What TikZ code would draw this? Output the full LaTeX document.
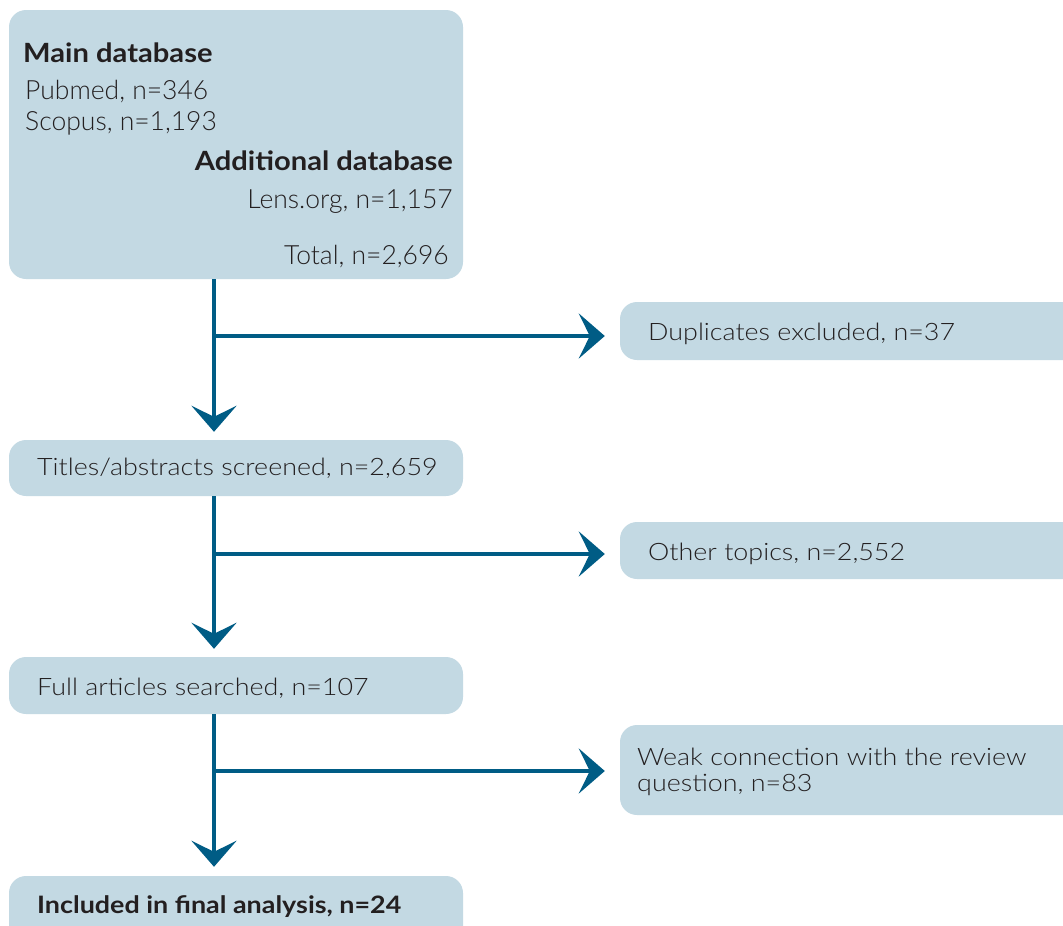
\documentclass[tikz,border=0pt]{standalone}
\usepackage{fontspec}
\setmainfont{Lato}[UprightFont={* Light},BoldFont={* Bold}]
\newfontfamily\widefont{Lato}[UprightFont={* Light},BoldFont={* Bold},FakeStretch=1.12]
\newfontfamily\headfont{Lato}[UprightFont={* Bold},FakeStretch=1.1]
\usetikzlibrary{arrows.meta,calc}
\definecolor{boxfill}{HTML}{C3D9E3}
\definecolor{arrowc}{HTML}{005C85}
\definecolor{txt}{HTML}{231F20}
\tikzset{
  box/.style={fill=boxfill,rounded corners=17pt,draw=none},
  anchorbox/.style={inner sep=0pt},
  lbl/.style={anchor=base west,inner sep=0pt,text=txt,font=\widefont\fontsize{24}{26}\selectfont},
  dbl/.style={anchor=base west,inner sep=0pt,text=txt,font=\fontsize{26.5}{31}\selectfont},
  dbr/.style={dbl,anchor=base east},
  hd/.style={anchor=base west,inner sep=0pt,text=txt,font=\headfont\fontsize{26.5}{31}\selectfont},
  fin/.style={anchor=base west,inner sep=0pt,text=txt,font=\widefont\bfseries\fontsize{24}{26}\selectfont},
  arr/.style={draw=arrowc,line width=4pt,-{Stealth[length=26pt,width=45pt,inset=11pt]}},
}
\begin{document}
\begin{tikzpicture}[x=1pt,y=-1pt]
\useasboundingbox (0,0) rectangle (1063,926);
\clip (0,0) rectangle (1063,926);
% boxes
\path[box] (9,10) rectangle (463,279);
\node[anchorbox,minimum width=454pt,minimum height=269pt] (b1) at (236,144.5) {};
\path[box] (9,440) rectangle (463,496);
\node[anchorbox,minimum width=454pt,minimum height=56pt] (b2) at (236,468) {};
\path[box] (9,657) rectangle (463,714);
\node[anchorbox,minimum width=454pt,minimum height=57pt] (b3) at (236,685.5) {};
\path[box] (9,876) rectangle (463,950);
\node[anchorbox,minimum width=454pt,minimum height=74pt] (b4) at (236,913) {};
\path[box] (620,302) rectangle (1080,360);
\node[anchorbox,minimum width=460pt,minimum height=58pt] (dup) at (850,331) {};
\path[box] (620,522) rectangle (1080,579);
\node[anchorbox,minimum width=460pt,minimum height=57pt] (oth) at (850,550.5) {};
\path[box] (620,725) rectangle (1080,815);
\node[anchorbox,minimum width=460pt,minimum height=90pt] (weak) at (850,770) {};
% texts
\node[hd] (t1) at (23,62) {Main database};
\node[dbl] (t2) at (25,99) {Pubmed, n=346};
\node[dbl] (t3) at (25,130) {Scopus, n=1,193};
\node[hd,anchor=base east] (t4) at (453,170) {Additional database};
\node[dbr] (t5) at (453,208) {Lens.org, n=1,157};
\node[dbr] (t6) at (449,264) {Total, n=2,696};
\node[lbl] (t7) at (648,340) {Duplicates excluded, n=37};
\node[lbl] (t8) at (37,475) {Titles/abstracts screened, n=2,659};
\node[lbl] (t9) at (648,560) {Other topics, n=2,552};
\node[lbl] (t10) at (37,695) {Full articles searched, n=107};
\node[lbl,align=left] (t11) at (637,791) {Weak connection with the review\\question, n=83};
\node[fin] (t12) at (37,913) {Included in final analysis, n=24};
% junctions
\coordinate (j1) at (214,336);
\coordinate (j2) at (214,554);
\coordinate (j3) at (214,771);
% arrows
\draw[arr] (b1.south -| j1) -- ($(b2.north -| j1)+(0,-8)$);
\draw[arr] (j1) -- ($(dup.west |- j1)+(-15,0)$);
\draw[arr] (b2.south -| j2) -- ($(b3.north -| j2)+(0,-8)$);
\draw[arr] (j2) -- ($(oth.west |- j2)+(-15,0)$);
\draw[arr] (b3.south -| j3) -- ($(b4.north -| j3)+(0,-9)$);
\draw[arr] (j3) -- ($(weak.west |- j3)+(-15,0)$);
\end{tikzpicture}
\end{document}
